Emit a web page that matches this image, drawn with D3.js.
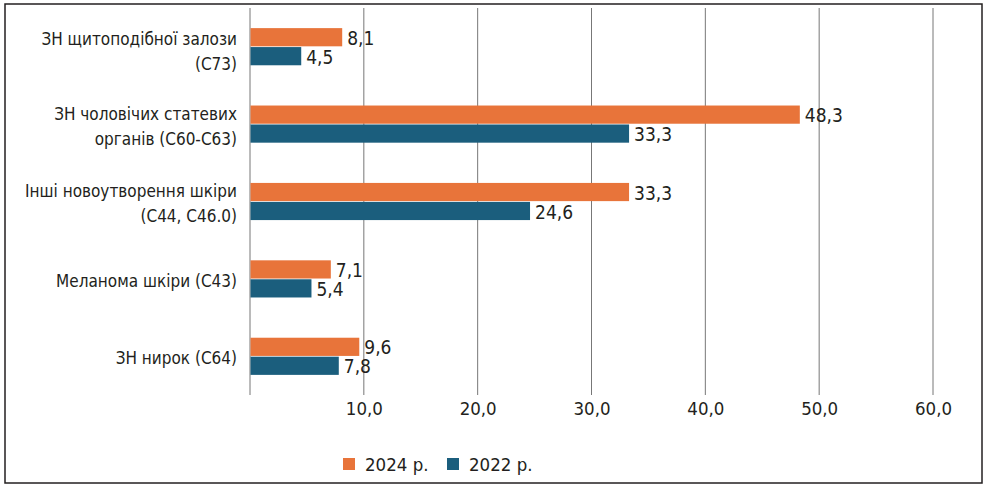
<!DOCTYPE html>
<html>
<head>
<meta charset="utf-8">
<script src="https://cdn.jsdelivr.net/npm/d3@7"></script>
<style>
  body { margin: 0; background: #fff; }
  text { font-family: "DejaVu Sans Condensed", "Liberation Sans Narrow", Roboto, sans-serif; fill: #231f20; }
</style>
</head>
<body>
<div id="chart-area"></div>
<script>
// DATA
var categories = [
    ["ЗН щитоподібної залози", "(C73)"],
    ["ЗН чоловічих статевих", "органів (C60-C63)"],
    ["Інші новоутворення шкіри", "(C44, C46.0)"],
    ["Меланома шкіри (C43)"],
    ["ЗН нирок (C64)"]
];
var values2024 = [8.1, 48.3, 33.3, 7.1, 9.6];
var values2022 = [4.5, 33.3, 24.6, 5.4, 7.8];
var years = ["2024 р.", "2022 р."];
var xTicks = [0, 10, 20, 30, 40, 50, 60];

var colors = { "2024 р.": "#e8743a", "2022 р.": "#1b5e7d" };

var W = 987, H = 491;

var data = categories.map(function (c, i) {
    return { key: c.join(" "), lines: c, values: [values2024[i], values2022[i]] };
});

var svg = d3.select("#chart-area")
    .append("svg")
    .attr("width", W)
    .attr("height", H);

// FRAME
svg.append("rect")
    .attr("x", 5).attr("y", 4)
    .attr("width", 977).attr("height", 479)
    .attr("fill", "none")
    .attr("stroke", "#231f20")
    .attr("stroke-width", 1.5);

// SCALES
var x = d3.scaleLinear().domain([0, 60]).range([250, 933]);

var y = d3.scaleBand()
    .domain(data.map(function (d) { return d.key; }))
    .range([8, 395])
    .paddingInner(0.52)
    .paddingOuter(0.26);

var ySub = d3.scaleBand()
    .domain(years)
    .range([0, y.bandwidth()])
    .paddingInner(0.04);

// GRID LINES
svg.append("g")
    .selectAll("line")
    .data(xTicks)
    .enter()
    .append("line")
    .attr("x1", function (d) { return x(d); })
    .attr("x2", function (d) { return x(d); })
    .attr("y1", 8)
    .attr("y2", 395)
    .attr("stroke", "#777")
    .attr("stroke-width", 1);

// X AXIS LABELS
var xAxisCall = d3.axisBottom(x)
    .tickValues(xTicks)
    .tickSize(0)
    .tickPadding(0)
    .tickFormat(function (d) { return d === 0 ? "" : d.toFixed(1).replace(".", ","); });

var xAxisGroup = svg.append("g")
    .attr("transform", "translate(0,402)")
    .call(xAxisCall);
xAxisGroup.select(".domain").remove();
xAxisGroup.selectAll("text")
    .attr("font-size", "18.5px")
    .attr("fill", "#231f20")
    .attr("dy", "0.71em")
    .style("font-family", null);

// BARS
var groups = svg.selectAll(".cat")
    .data(data)
    .enter()
    .append("g")
    .attr("class", "cat")
    .attr("transform", function (d) { return "translate(0," + y(d.key) + ")"; });

groups.selectAll("rect")
    .data(function (d) { return years.map(function (yr, j) { return { year: yr, value: d.values[j] }; }); })
    .enter()
    .append("rect")
    .attr("x", x(0) + 0.5)
    .attr("y", function (d) { return ySub(d.year); })
    .attr("width", function (d) { return x(d.value) - x(0) - 0.5; })
    .attr("height", ySub.bandwidth())
    .attr("fill", function (d) { return colors[d.year]; });

// VALUE LABELS
groups.selectAll(".val")
    .data(function (d) { return years.map(function (yr, j) { return { year: yr, value: d.values[j] }; }); })
    .enter()
    .append("text")
    .attr("class", "val")
    .attr("x", function (d) { return x(d.value) + 5; })
    .attr("y", function (d) { return ySub(d.year) + ySub.bandwidth() / 2 + 1; })
    .attr("dy", "0.35em")
    .attr("font-size", "19px")
    .text(function (d) { return d.value.toFixed(1).replace(".", ","); });

// CATEGORY LABELS
groups.append("text")
    .attr("text-anchor", "end")
    .attr("font-size", "17px")
    .each(function (d, i) {
        var t = d3.select(this);
        var n = d.lines.length;
        var shift = i === 0 ? 5 : 2;
        d.lines.forEach(function (line, k) {
            t.append("tspan")
                .attr("x", 237)
                .attr("y", y.bandwidth() / 2 + (k - (n - 1) / 2) * 25 + shift)
                .attr("dy", "0.35em")
                .text(line);
        });
    });

// LEGEND
var legend = svg.append("g");
var legendX = [343, 447];
years.forEach(function (yr, i) {
    legend.append("rect")
        .attr("x", legendX[i]).attr("y", 458)
        .attr("width", 12).attr("height", 12)
        .attr("fill", colors[yr]);
    legend.append("text")
        .attr("x", legendX[i] + 22)
        .attr("y", 471)
        .attr("font-size", "18.5px")
        .text(yr);
});
</script>
</body>
</html>
